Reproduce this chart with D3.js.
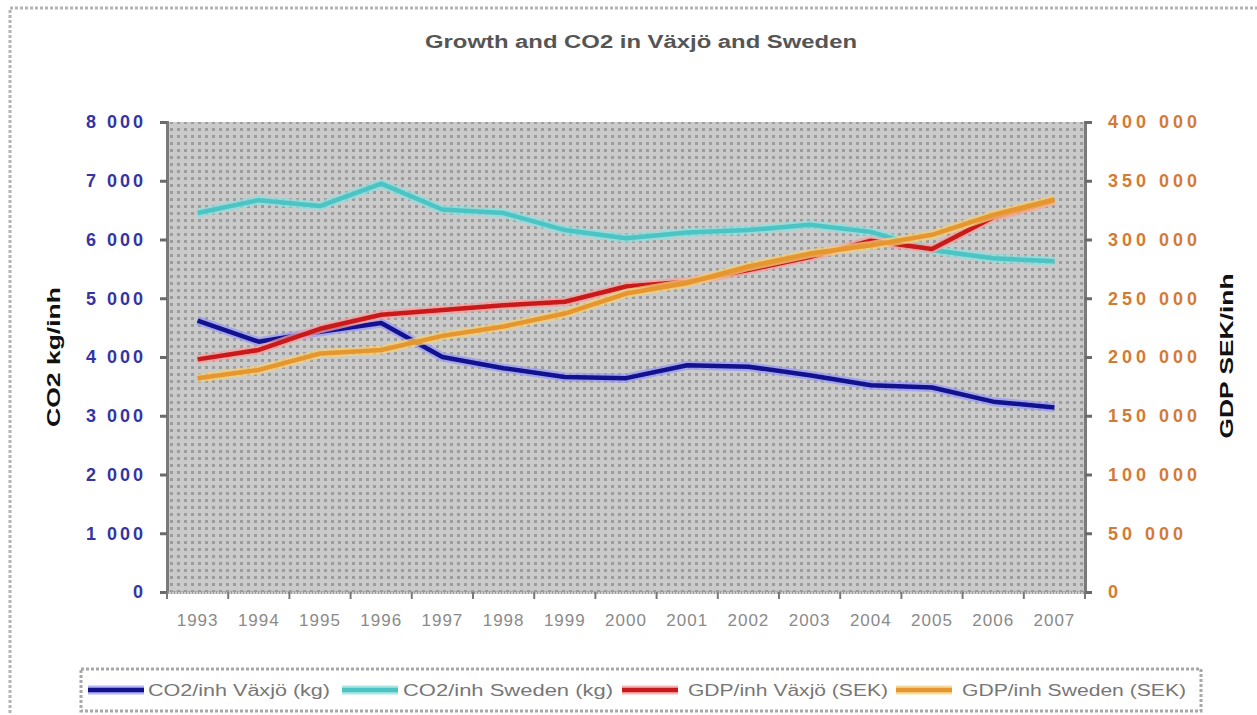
<!DOCTYPE html>
<html>
<head>
<meta charset="utf-8">
<script src="https://cdn.jsdelivr.net/npm/d3@7"></script>
<style>
  html, body { margin: 0; padding: 0; background: #fff; }
  svg { display: block; font-family: "Liberation Sans", Arial, sans-serif; }
  .tick-left text { fill: #3434a6; font-weight: bold; font-size: 18px; letter-spacing: 3px; }
  .tick-right text { fill: #d47a34; font-weight: bold; font-size: 18px; letter-spacing: 4px; }
  .tick-x text { fill: #8a8a8a; font-size: 17px; letter-spacing: 1px; }
  .axis-title { font-weight: bold; font-size: 19px; fill: #111; }
</style>
</head>
<body>
<svg id="chart" width="1257" height="715"></svg>
<script>
const years = ["1993", "1994", "1995", "1996", "1997", "1998", "1999", "2000",
  "2001", "2002", "2003", "2004", "2005", "2006", "2007"];

const co2Vaxjo = [4620, 4260, 4430, 4580, 4000, 3810, 3660, 3640, 3860, 3835, 3690, 3520, 3480, 3240, 3140];
const co2Sweden = [6450, 6670, 6570, 6950, 6510, 6450, 6160, 6020, 6120, 6160, 6250, 6130, 5820, 5680, 5630];
const gdpVaxjo = [198000, 206000, 224000, 236000, 240000, 244000, 247000, 260000, 264000, 274000, 285000, 299000, 292000, 319000, 333000];
const gdpSweden = [182000, 189000, 203000, 206000, 218000, 226000, 237000, 254000, 263000, 277000, 288000, 295000, 304000, 321000, 334000];

const leftTicks = [0, 1000, 2000, 3000, 4000, 5000, 6000, 7000, 8000];
const rightTicks = [0, 50000, 100000, 150000, 200000, 250000, 300000, 350000, 400000];

const seriesNames = ["CO2/inh Växjö (kg)", "CO2/inh Sweden (kg)", "GDP/inh Växjö (SEK)", "GDP/inh Sweden (SEK)"];

const svg = d3.select("#chart");
const plot = { left: 167, right: 1085, top: 122, bottom: 592 };

// outer chart border (dotted, runs off the right/bottom edge)
svg.append("rect")
  .attr("x", 10).attr("y", 8).attr("width", 1260).attr("height", 720)
  .attr("fill", "none").attr("stroke", "#b4b4b4").attr("stroke-width", 3)
  .attr("stroke-dasharray", "3 2");

// dithered gray plot background
const defs = svg.append("defs");
const pat = defs.append("pattern")
  .attr("id", "dither").attr("patternUnits", "userSpaceOnUse")
  .attr("width", 7).attr("height", 7);
pat.append("rect").attr("width", 7).attr("height", 7).attr("fill", "#cacaca");
pat.append("rect").attr("x", 2).attr("y", 2).attr("width", 3).attr("height", 3).attr("fill", "#9c9c9c");

svg.append("rect")
  .attr("x", plot.left).attr("y", plot.top)
  .attr("width", plot.right - plot.left).attr("height", plot.bottom - plot.top)
  .attr("fill", "url(#dither)");

const x = d3.scaleBand().domain(years).range([plot.left, plot.right]);
const xc = (d) => x(d) + x.bandwidth() / 2;
const yLeft = d3.scaleLinear().domain([0, 8000]).range([plot.bottom, plot.top]);
const yRight = d3.scaleLinear().domain([0, 400000]).range([plot.bottom, plot.top]);

const spaceFmt = (d) => d3.format(",")(d).replace(/,/g, " ");

// axes
const leftAxis = svg.append("g")
  .attr("class", "tick-left")
  .attr("transform", `translate(${plot.left},0)`)
  .call(d3.axisLeft(yLeft).tickValues(leftTicks).tickSize(7).tickPadding(14).tickFormat(spaceFmt));

const rightAxis = svg.append("g")
  .attr("class", "tick-right")
  .attr("transform", `translate(${plot.right},0)`)
  .call(d3.axisRight(yRight).tickValues(rightTicks).tickSize(7).tickPadding(16).tickFormat(spaceFmt));

const xAxis = svg.append("g")
  .attr("class", "tick-x")
  .attr("transform", `translate(0,${plot.bottom})`)
  .call(d3.axisBottom(x).tickSize(0).tickPadding(22));

[leftAxis, rightAxis, xAxis].forEach((g) => {
  g.select(".domain").attr("stroke", "#7a7a7a").attr("stroke-width", 3);
  g.selectAll(".tick line").attr("stroke", "#6a6a6a").attr("stroke-width", 3);
});
xAxis.select(".domain").attr("stroke", "#9a9a9a").attr("stroke-dasharray", "2 1");

// category boundary ticks on x axis
const bounds = years.map((d) => x(d)).concat([x.range()[1]]);
svg.append("g").selectAll("line").data(bounds).join("line")
  .attr("x1", (d) => d).attr("x2", (d) => d)
  .attr("y1", plot.bottom).attr("y2", plot.bottom + 7)
  .attr("stroke", "#7a7a7a").attr("stroke-width", 2);

// lines
const series = [
  { values: co2Vaxjo, scale: yLeft, core: "#12128f", halo: "#9a9af5" },
  { values: co2Sweden, scale: yLeft, core: "#4cc4c4", halo: "#8edede" },
  { values: gdpVaxjo, scale: yRight, core: "#c81a1a", halo: "#f4a0a0" },
  { values: gdpSweden, scale: yRight, core: "#e6962e", halo: "#f2cf7a" }
];

const lineLayer = svg.append("g");
series.forEach((s) => {
  const line = d3.line()
    .x((d, i) => xc(years[i]))
    .y((d) => s.scale(d));
  lineLayer.append("path").datum(s.values)
    .attr("d", line).attr("fill", "none")
    .attr("stroke", s.halo).attr("stroke-width", 9).attr("stroke-linejoin", "round").attr("opacity", 0.75);
  lineLayer.append("path").datum(s.values)
    .attr("d", line).attr("fill", "none")
    .attr("stroke", s.core).attr("stroke-width", 4.5).attr("stroke-linejoin", "round");
});

// titles
svg.append("text")
  .attr("x", 641).attr("y", 48).attr("text-anchor", "middle")
  .attr("font-size", 18).attr("font-weight", "bold").attr("fill", "#555")
  .attr("textLength", 432).attr("lengthAdjust", "spacingAndGlyphs")
  .text("Growth and CO2 in Växjö and Sweden");

svg.append("text")
  .attr("class", "axis-title")
  .attr("transform", "translate(60,357) rotate(-90)")
  .attr("text-anchor", "middle")
  .attr("textLength", 140).attr("lengthAdjust", "spacingAndGlyphs")
  .text("CO2 kg/inh");

svg.append("text")
  .attr("class", "axis-title")
  .attr("transform", "translate(1233,356) rotate(-90)")
  .attr("text-anchor", "middle")
  .attr("textLength", 165).attr("lengthAdjust", "spacingAndGlyphs")
  .text("GDP SEK/inh");

// legend
const legend = svg.append("g");
legend.append("rect")
  .attr("x", 81).attr("y", 669).attr("width", 1120).attr("height", 42)
  .attr("fill", "#fff").attr("stroke", "#a8a8a8").attr("stroke-width", 3)
  .attr("stroke-dasharray", "3 2");

const legendPos = [
  { sx: 88, tx: 148, tw: 182 },
  { sx: 342, tx: 403, tw: 210 },
  { sx: 622, tx: 688, tw: 200 },
  { sx: 896, tx: 962, tw: 224 }
];

legendPos.forEach((p, i) => {
  const s = series[i];
  legend.append("line")
    .attr("x1", p.sx).attr("x2", p.sx + 56).attr("y1", 690).attr("y2", 690)
    .attr("stroke", s.halo).attr("stroke-width", 9).attr("opacity", 0.75);
  legend.append("line")
    .attr("x1", p.sx).attr("x2", p.sx + 56).attr("y1", 690).attr("y2", 690)
    .attr("stroke", s.core).attr("stroke-width", 4.5);
  legend.append("text")
    .attr("x", p.tx).attr("y", 696)
    .attr("font-size", 16).attr("fill", "#777")
    .attr("textLength", p.tw).attr("lengthAdjust", "spacingAndGlyphs")
    .text(seriesNames[i]);
});
</script>
</body>
</html>
